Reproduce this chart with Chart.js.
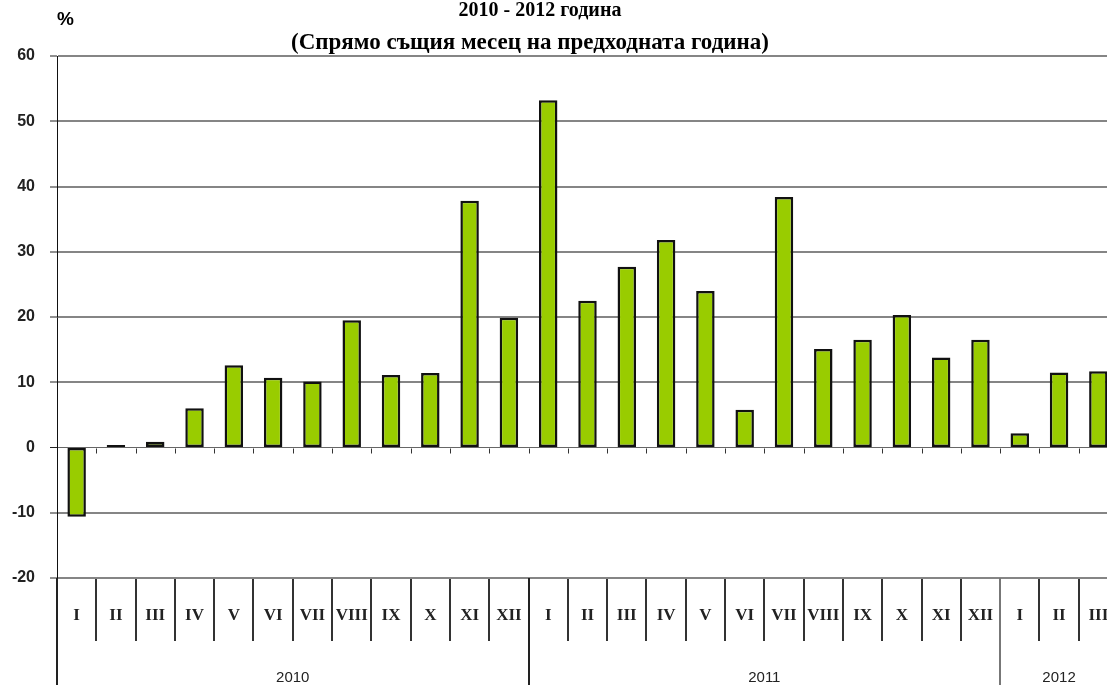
<!DOCTYPE html>
<html>
<head>
<meta charset="utf-8">
<script src="https://cdn.jsdelivr.net/npm/chart.js"></script>
<style>
  body { margin: 0; background: #fff; overflow: hidden; }
  #wrap { position: relative; width: 1120px; height: 685px; }
</style>
</head>
<body>
<div id="wrap"><canvas id="grafik"></canvas></div>
<script>
// months as roman numerals, three years (2012 only up to March)
const romans = ['I', 'II', 'III', 'IV', 'V', 'VI', 'VII', 'VIII', 'IX', 'X', 'XI', 'XII'];
const years = ['2010', '2011', '2012'];
const monthsPerYear = [12, 12, 3];

// % change vs same month of previous year
const values2010 = [-10.6, 0.4, 0.9, 6.0, 12.6, 10.7, 10.1, 19.5, 11.1, 11.4, 37.8, 19.9];
const values2011 = [53.2, 22.5, 27.7, 31.8, 24.0, 5.8, 38.4, 15.1, 16.5, 20.3, 13.8, 16.5];
const values2012 = [2.2, 11.5, 11.7];

const titleLines = ['2010 - 2012 година', '(Спрямо същия месец на предходната година)'];
const yMin = -20, yMax = 60, yStep = 10;

const labels = [];
monthsPerYear.forEach(n => labels.push(...romans.slice(0, n)));
const values = [...values2010, ...values2011, ...values2012];

// year rows, dividers, title and "%" under/around the plot
const yearRows = {
  id: 'yearRows',
  afterDraw(chart) {
    const { ctx, scales: { x, y }, chartArea } = chart;
    ctx.save();

    // short ticks under the zero line
    const y0 = Math.round(y.getPixelForValue(0)) + 0.5;
    ctx.strokeStyle = '#333';
    ctx.lineWidth = 1;
    for (let i = 0; i < labels.length; i++) {
      const px = Math.round(x.getPixelForValue(i + 0.5)) + 0.5;
      ctx.beginPath();
      ctx.moveTo(px, y0);
      ctx.lineTo(px, y0 + 5);
      ctx.stroke();
    }

    // year dividers + labels
    let start = 0;
    ctx.font = '15px "Liberation Sans", Arial, sans-serif';
    ctx.fillStyle = '#222';
    ctx.textAlign = 'center';
    ctx.textBaseline = 'middle';
    years.forEach((yr, k) => {
      const px = Math.round(x.getPixelForValue(start - 0.5));
      ctx.strokeStyle = k === 2 ? '#777' : '#222';
      ctx.lineWidth = 2;
      ctx.beginPath();
      ctx.moveTo(px, chartArea.bottom);
      ctx.lineTo(px, chart.height);
      ctx.stroke();
      const mid = start + monthsPerYear[k] / 2 - 0.5;
      ctx.fillText(yr, x.getPixelForValue(mid), 678);
      start += monthsPerYear[k];
    });

    // title
    ctx.fillStyle = '#000';
    ctx.font = 'bold 20px "Liberation Serif", "Times New Roman", serif';
    ctx.fillText(titleLines[0], 540, 11);
    ctx.font = 'bold 23px "Liberation Serif", "Times New Roman", serif';
    ctx.fillText(titleLines[1], 530, 43);

    ctx.textAlign = 'left';
    ctx.font = 'bold 19px "Liberation Sans", Arial, sans-serif';
    ctx.fillText('%', 57, 20);
    ctx.restore();
  }
};

new Chart(document.getElementById('grafik'), {
  type: 'bar',
  data: {
    labels: labels,
    datasets: [{
      data: values,
      backgroundColor: '#99cc00',
      borderColor: '#111',
      borderWidth: 2.5,
      borderSkipped: false,
      barPercentage: 0.47,
      categoryPercentage: 1
    }]
  },
  options: {
    responsive: true,
    maintainAspectRatio: false,
    animation: false,
    layout: { padding: { top: 56, right: 2, left: 0, bottom: 0 } },
    scales: {
      x: {
        offset: true,
        grid: { offset: true, drawOnChartArea: false, tickLength: 63, color: '#333', lineWidth: 2 },
        border: { display: false },
        ticks: {
          padding: -36,
          maxRotation: 0,
          autoSkip: false,
          color: '#222',
          font: { family: '"Liberation Serif", "Times New Roman", serif', size: 17, weight: 'bold' }
        },
        afterFit(s) { s.height = 107; }
      },
      y: {
        min: yMin,
        max: yMax,
        ticks: {
          stepSize: yStep,
          padding: 15,
          color: '#222',
          font: { family: '"Liberation Sans", Arial, sans-serif', size: 16, weight: 'bold' }
        },
        grid: {
          color: ctx => ctx.tick && ctx.tick.value === 0 ? '#666' : '#858585',
          lineWidth: ctx => ctx.tick && ctx.tick.value === 0 ? 1 : 2,
          tickColor: '#222',
          tickLength: 7,
          tickWidth: 1
        },
        border: { display: true, color: '#111', width: 1 },
        afterFit(s) { s.width = 57; }
      }
    },
    plugins: {
      legend: { display: false },
      tooltip: { enabled: false },
      title: { display: false }
    }
  },
  plugins: [yearRows]
});
</script>
</body>
</html>
